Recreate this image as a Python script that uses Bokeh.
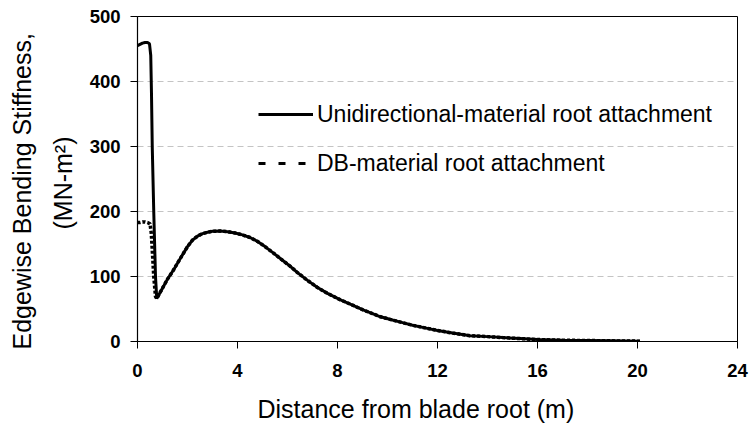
from bokeh.embed import file_html
from bokeh.models import (FixedTicker, Legend, LegendItem, Range1d, Title,
                          ColumnDataSource)
from bokeh.plotting import figure
from bokeh.resources import INLINE

# ---- data -------------------------------------------------------------
# Root region, unidirectional-material attachment (m, MN-m^2)
uni_root_x = [0.0, 0.1, 0.2, 0.3, 0.4, 0.48, 0.53, 0.56, 0.59, 0.65, 0.72]
uni_root_y = [455, 457, 459, 460, 460, 458, 440, 380, 300, 200, 100]

# Root region, DB-material attachment
db_root_x = [0.0, 0.1, 0.2, 0.3, 0.4, 0.5, 0.55, 0.59, 0.65, 0.72]
db_root_y = [183, 183, 184, 184, 183, 181, 167, 141, 100, 69]

# Outboard part of the blade, shared by both designs
tail_x = [0.77, 1.0, 1.2, 1.44, 1.7, 2.0, 2.2, 2.4, 2.6, 2.8, 3.0, 3.3,
          3.6, 3.9, 4.2, 4.5, 4.8, 5.1, 5.44, 5.8, 6.1, 6.4, 6.8, 7.2,
          7.6, 8.12, 8.6, 9.0, 9.4, 9.72, 10.2, 10.6, 11.0, 11.5, 12.0,
          12.6, 13.3, 14.0, 14.6, 15.3, 16.0, 17.0, 18.0, 19.0, 20.1]
tail_y = [66, 82, 96, 110, 127, 146, 156, 162, 166, 168, 169.5, 170,
          169, 167, 164, 160, 154, 146, 136, 125, 116, 106, 94, 83,
          74, 64, 56, 49, 43, 38, 33, 29, 25, 21, 17,
          13, 9, 7.5, 6, 4.5, 3, 2, 1.5, 1, 0.5]

x_ticks = [0, 4, 8, 12, 16, 20, 24]
y_ticks = [0, 100, 200, 300, 400, 500]

series_names = ["Unidirectional-material root attachment",
                "DB-material root attachment"]

FONT = "Liberation Sans"

# ---- figure -----------------------------------------------------------
p = figure(width=751, height=436, output_backend="svg", toolbar_location=None,
           x_range=Range1d(0, 24), y_range=Range1d(0, 500),
           min_border_left=137, min_border_right=14,
           min_border_top=16, min_border_bottom=94)
p.background_fill_color = "white"
p.border_fill_color = "white"
p.outline_line_color = "black"
p.outline_line_width = 1

# axes
for ax in (p.xaxis[0], p.yaxis[0]):
    ax.axis_line_color = "black"
    ax.axis_line_width = 1.2
    ax.major_tick_line_color = "black"
    ax.major_tick_in = 0
    ax.major_tick_out = 7
    ax.minor_tick_line_color = None
    ax.major_label_text_font = FONT
    ax.major_label_text_font_style = "bold"
    ax.major_label_text_font_size = "18.5px"
    ax.major_label_text_color = "black"

p.xaxis.ticker = FixedTicker(ticks=x_ticks)
p.yaxis.ticker = FixedTicker(ticks=y_ticks)
p.xaxis.major_label_standoff = 15
p.yaxis.major_label_standoff = 10

p.xgrid.grid_line_color = None
p.ygrid.ticker = FixedTicker(ticks=y_ticks[1:-1])
p.ygrid.grid_line_color = "#c4c4c4"
p.ygrid.grid_line_dash = "6 4"
p.ygrid.grid_line_width = 1

# ---- curves -----------------------------------------------------------
db_src = ColumnDataSource(dict(x=db_root_x + tail_x, y=db_root_y + tail_y))
uni_src = ColumnDataSource(dict(x=uni_root_x + tail_x, y=uni_root_y + tail_y))

p.line("x", "y", source=db_src, line_color="black", line_width=3.5,
       line_dash="3 2")
uni = p.line("x", "y", source=uni_src, line_color="black", line_width=3)

# one-point proxy so the legend sample gets its own, longer dash
proxy_src = ColumnDataSource(dict(x=db_root_x[:1], y=db_root_y[:1]))
leg_db = p.line("x", "y", source=proxy_src, line_color="black", line_width=3,
                line_dash="7 13")

legend = Legend(items=[LegendItem(label=series_names[0], renderers=[uni]),
                       LegendItem(label=series_names[1], renderers=[leg_db])],
                location=(121, 163), orientation="vertical",
                glyph_width=55, glyph_height=30, label_height=30,
                label_standoff=4, spacing=19, padding=0, margin=0,
                border_line_color=None, background_fill_alpha=0,
                label_text_font=FONT, label_text_font_size="23px",
                label_text_color="black")
p.add_layout(legend, "center")

# ---- axis titles ------------------------------------------------------
x_title = Title(text="Distance from blade root (m)", align="left", offset=120,
                standoff=27, text_font=FONT, text_font_size="25px",
                text_font_style="normal", text_color="black")
p.add_layout(x_title, "below")

y_title_units = Title(text="(MN-m\u00b2)", align="left", offset=112,
                      standoff=20, text_line_height=1.0, text_font=FONT,
                      text_font_size="25px", text_font_style="normal",
                      text_color="black")
y_title_main = Title(text="Edgewise Bending Stiffness,", align="left",
                     offset=-8, standoff=1, text_font=FONT,
                     text_font_size="25px", text_font_style="normal",
                     text_color="black")
p.add_layout(y_title_units, "left")
p.add_layout(y_title_main, "left")

open("out.html", "w").write(file_html(p, INLINE))
